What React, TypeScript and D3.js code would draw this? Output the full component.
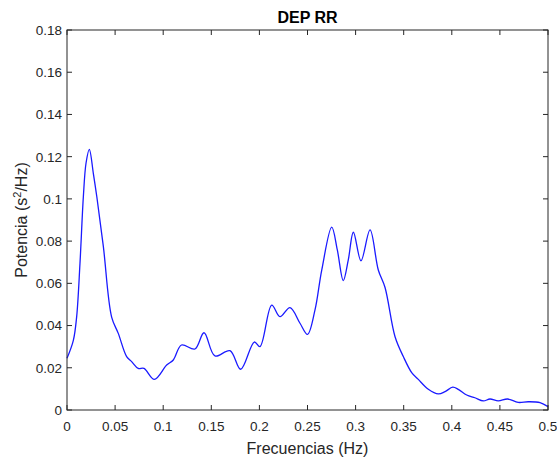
import React from "react";
import * as d3 from "d3";

const title = "DEP RR";
const xLabel = "Frecuencias (Hz)";
const freqs = [
  0.0, 0.0066, 0.010, 0.0135, 0.017, 0.0198, 0.0232, 0.0274, 0.031, 0.0378, 0.0464, 0.0533,
  0.062, 0.0672, 0.074, 0.080, 0.0908, 0.1036, 0.1105, 0.119, 0.133, 0.1424, 0.1538,
  0.1694, 0.1805, 0.1947, 0.2006, 0.2128, 0.2214, 0.2318, 0.2422, 0.25, 0.2578, 0.2648,
  0.2752, 0.281, 0.2872, 0.2924, 0.2977, 0.3056, 0.315, 0.3236, 0.3306, 0.341, 0.3496,
  0.3583, 0.3652, 0.3756, 0.386, 0.393, 0.401, 0.4067, 0.4155, 0.424, 0.4328, 0.4397,
  0.4483, 0.458, 0.469, 0.4795, 0.4917, 0.5,
];
const power = [
  0.0245, 0.033, 0.044, 0.0695, 0.101, 0.117, 0.1235, 0.112, 0.101, 0.0774, 0.044, 0.0363,
  0.0253, 0.0229, 0.0197, 0.0197, 0.0145, 0.0213, 0.0237, 0.0308, 0.0289, 0.0366, 0.0256,
  0.0281, 0.0193, 0.0322, 0.030, 0.0497, 0.0442, 0.0485, 0.0411, 0.0358, 0.0474, 0.0663,
  0.0866, 0.0758, 0.0613, 0.0711, 0.0842, 0.0707, 0.0853, 0.0663, 0.058, 0.0347, 0.0253,
  0.0177, 0.0145, 0.0098, 0.0076, 0.0087, 0.0108, 0.0098, 0.0071, 0.0058, 0.0043, 0.0052,
  0.0043, 0.0052, 0.0036, 0.0039, 0.0035, 0.0016,
];
const xTicks = [0, 0.05, 0.1, 0.15, 0.2, 0.25, 0.3, 0.35, 0.4, 0.45, 0.5];
const xTickLabels = ["0", "0.05", "0.1", "0.15", "0.2", "0.25", "0.3", "0.35", "0.4", "0.45", "0.5"];
const yTicks = [0, 0.02, 0.04, 0.06, 0.08, 0.1, 0.12, 0.14, 0.16, 0.18];
const yTickLabels = ["0", "0.02", "0.04", "0.06", "0.08", "0.1", "0.12", "0.14", "0.16", "0.18"];

export default function App() {
  const W = 557, H = 461;
  const left = 67, right = 548, top = 30, bottom = 410;
  const x = d3.scaleLinear().domain([0, 0.5]).range([left, right]);
  const y = d3.scaleLinear().domain([0, 0.18]).range([bottom, top]);
  const pts: [number, number][] = freqs.map((f, i) => [f, power[i]]);
  const line = d3
    .line<[number, number]>()
    .x((d) => x(d[0]))
    .y((d) => y(d[1]))
    .curve(d3.curveCatmullRom.alpha(0.5));
  const axisColor = "#262626";
  const font = "'Liberation Sans', Arial, Helvetica, sans-serif";
  const tl = 5;
  return (
    <svg
      width={W}
      height={H}
      style={{ position: "fixed", top: 0, left: 0, background: "#fff" }}
      fontFamily={font}
    >
      <rect x={0} y={0} width={W} height={H} fill="#fff" />
      <path d={line(pts) || ""} fill="none" stroke="#1a1aff" strokeWidth={1.3} />
      <rect x={left} y={top} width={right - left} height={bottom - top} fill="none" stroke={axisColor} strokeWidth={1} />
      {xTicks.map((t, i) => (
        <g key={"x" + i}>
          <line x1={x(t)} x2={x(t)} y1={bottom} y2={bottom - tl} stroke={axisColor} />
          <line x1={x(t)} x2={x(t)} y1={top} y2={top + tl} stroke={axisColor} />
          <text x={x(t)} y={431} textAnchor="middle" fontSize={13.5} fill={axisColor}>
            {xTickLabels[i]}
          </text>
        </g>
      ))}
      {yTicks.map((t, i) => (
        <g key={"y" + i}>
          <line x1={left} x2={left + tl} y1={y(t)} y2={y(t)} stroke={axisColor} />
          <line x1={right} x2={right - tl} y1={y(t)} y2={y(t)} stroke={axisColor} />
          <text x={62} y={y(t)} dy="0.36em" textAnchor="end" fontSize={13.5} fill={axisColor}>
            {yTickLabels[i]}
          </text>
        </g>
      ))}
      <text x={(left + right) / 2} y={454} textAnchor="middle" fontSize={16} fill={axisColor}>
        {xLabel}
      </text>
      <text
        transform={`translate(27,${(top + bottom) / 2}) rotate(-90)`}
        textAnchor="middle"
        fontSize={16}
        fill={axisColor}
      >
        Potencia (s<tspan baselineShift="super" fontSize={11}>2</tspan>/Hz)
      </text>
      <text x={(left + right) / 2} y={23} textAnchor="middle" fontSize={16} fontWeight="bold" fill="#000">
        {title}
      </text>
    </svg>
  );
}
